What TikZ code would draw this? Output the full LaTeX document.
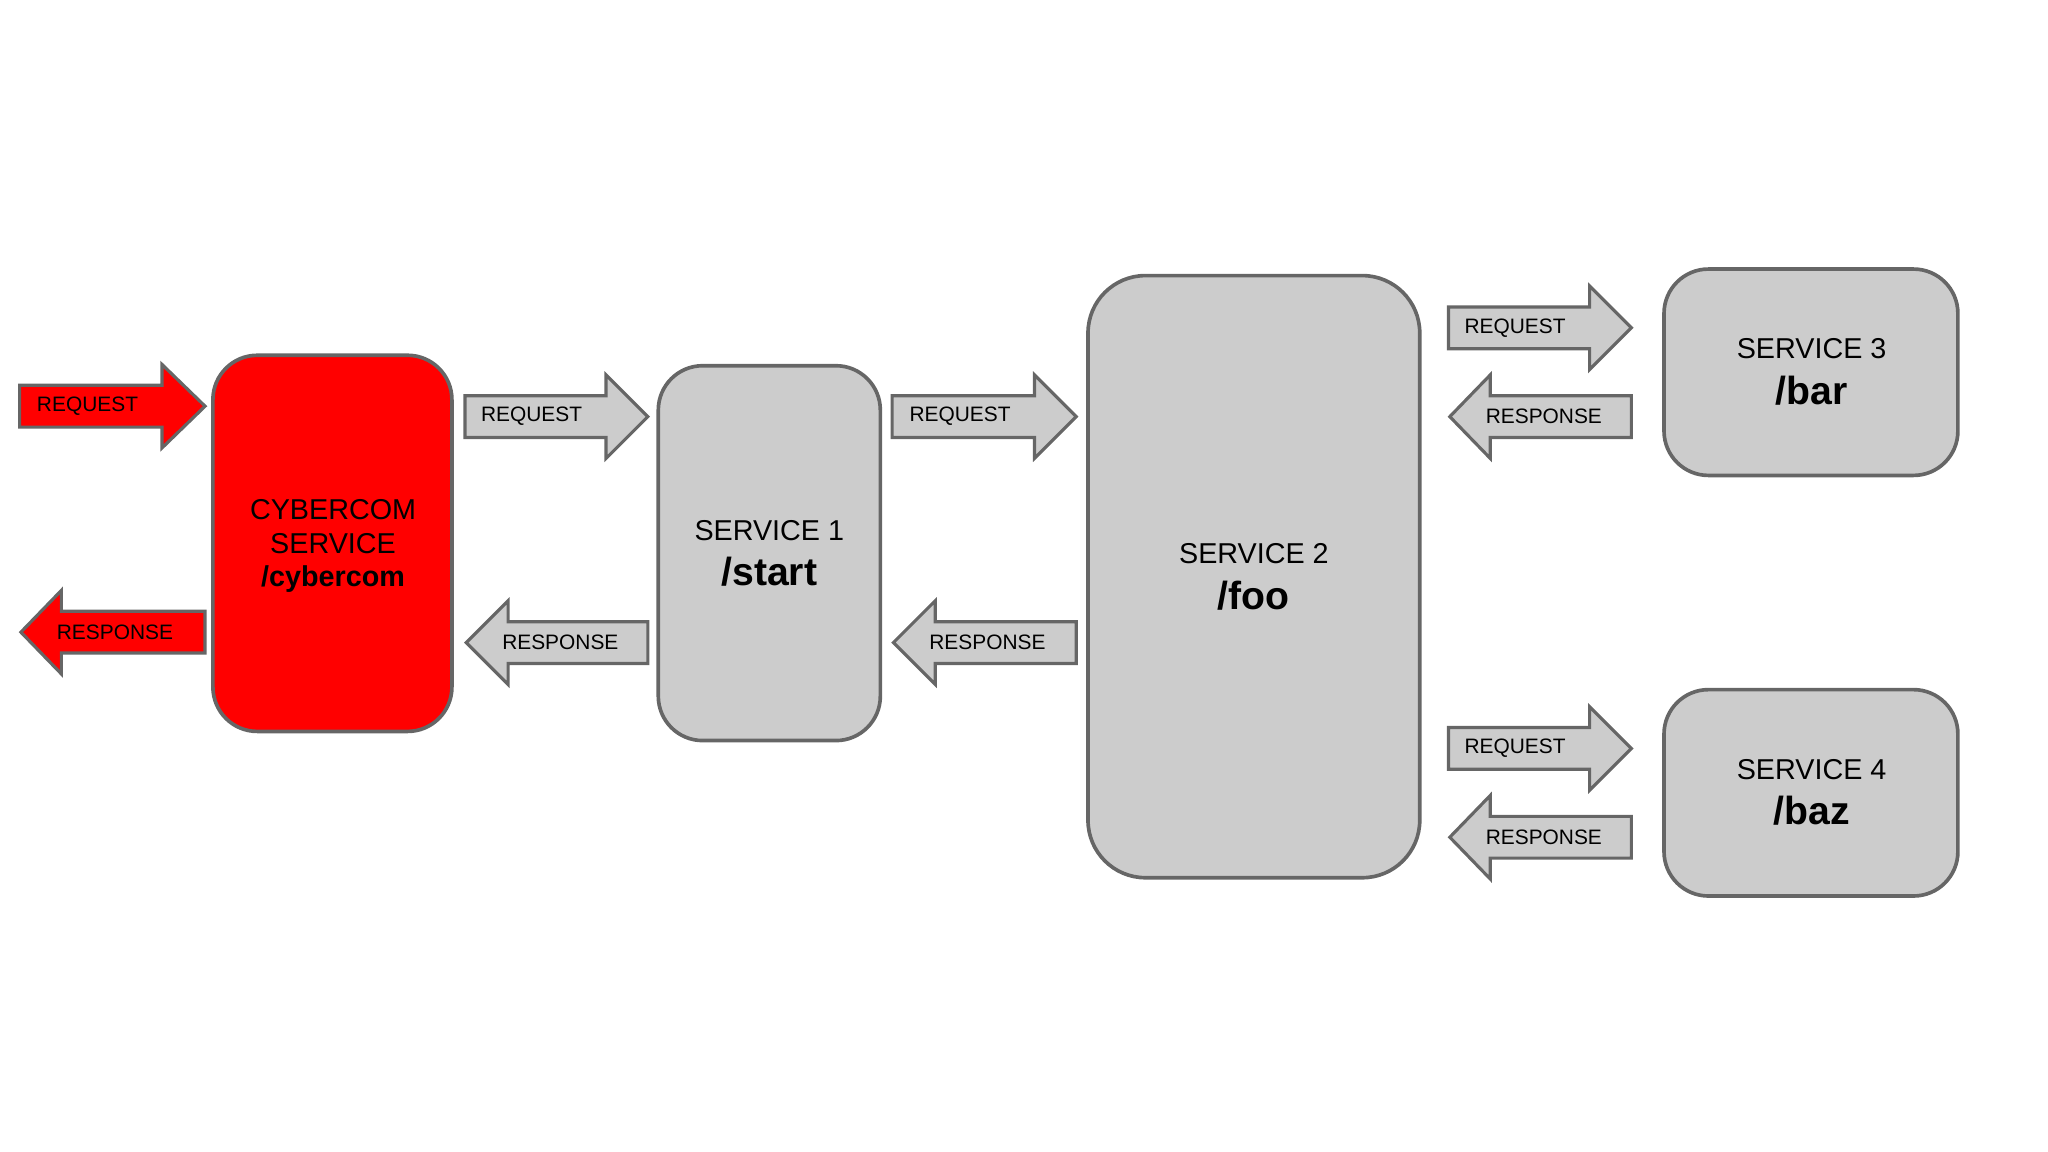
\documentclass[tikz,border=0pt]{standalone}
\usepackage{fontspec}
\setmainfont{Liberation Sans}
\begin{document}
\begin{tikzpicture}[x=0.5pt,y=-0.5pt,
  box/.style={draw=black!60,line width=1.4pt,fill=black!20},
  redbox/.style={draw=black!60,line width=1.4pt,fill=red},
  arr/.style={draw=black!60,line width=1.2pt,fill=black!20},
  redarr/.style={draw=black!60,line width=1.2pt,fill=red},
  lab/.style={font=\fontsize{8}{9}\selectfont,inner sep=0pt},
  ttl/.style={font=\fontsize{11}{12}\selectfont,inner sep=0pt},
  big/.style={font=\fontsize{15}{16}\selectfont\bfseries,inner sep=0pt}]
\useasboundingbox (0,0) rectangle (1568,882);
% right arrow: #1 style, #2 x start, #3 head start, #4 tip, #5 yc
\newcommand{\rarrow}[5]{\draw[#1] (#2,#5-16) -- (#3,#5-16) -- (#3,#5-32) -- (#4,#5) -- (#3,#5+32) -- (#3,#5+16) -- (#2,#5+16) -- cycle;}
\newcommand{\larrow}[5]{\draw[#1] (#2,#5) -- (#3,#5-32) -- (#3,#5-16) -- (#4,#5-16) -- (#4,#5+16) -- (#3,#5+16) -- (#3,#5+32) -- cycle;}
% boxes
\draw[redbox,rounded corners=17pt] (163,272) rectangle (346,560);
\draw[box,rounded corners=17pt] (504,280) rectangle (674,567);
\draw[box,rounded corners=22pt] (833,211) rectangle (1087,672);
\draw[box,rounded corners=17pt] (1274,206) rectangle (1499,364);
\draw[box,rounded corners=17pt] (1274,528) rectangle (1499,686);
\node[ttl] (c1) at (255,390) {CYBERCOM};
\node[ttl] (c2) at (255,416) {SERVICE};
\node[ttl,font=\fontsize{11}{12}\selectfont\bfseries] (c3) at (255,443) {/cybercom};
\node[ttl] (s1) at (589,406) {SERVICE 1};
\node[big] (s1b) at (589,438) {/start};
\node[ttl] (s2) at (960,424) {SERVICE 2};
\node[big] (s2b) at (960,456) {/foo};
\node[ttl] (s3) at (1387,267) {SERVICE 3};
\node[big] (s3b) at (1387,299) {/bar};
\node[ttl] (s4) at (1387,589) {SERVICE 4};
\node[big] (s4b) at (1387,621) {/baz};
% arrows
\rarrow{redarr}{15}{124}{157}{311}
\node[lab] (a1) at (67,311) {REQUEST};
\larrow{redarr}{16}{47}{157}{484}
\node[lab] (a2) at (88,484) {RESPONSE};
\rarrow{arr}{356}{464}{496}{319}
\node[lab] (a3) at (407,319) {REQUEST};
\larrow{arr}{357}{389}{496}{492}
\node[lab] (a4) at (429,492) {RESPONSE};
\rarrow{arr}{683}{792}{824}{319}
\node[lab] (a5) at (735,319) {REQUEST};
\larrow{arr}{684}{716}{824}{492}
\node[lab] (a6) at (756,492) {RESPONSE};
\rarrow{arr}{1109}{1217}{1249}{251}
\node[lab] (a7) at (1160,251) {REQUEST};
\larrow{arr}{1110}{1141}{1249}{319}
\node[lab] (a8) at (1182,319) {RESPONSE};
\rarrow{arr}{1109}{1217}{1249}{573}
\node[lab] (a9) at (1160,573) {REQUEST};
\larrow{arr}{1110}{1141}{1249}{641}
\node[lab] (a10) at (1182,641) {RESPONSE};
\end{tikzpicture}
\end{document}
